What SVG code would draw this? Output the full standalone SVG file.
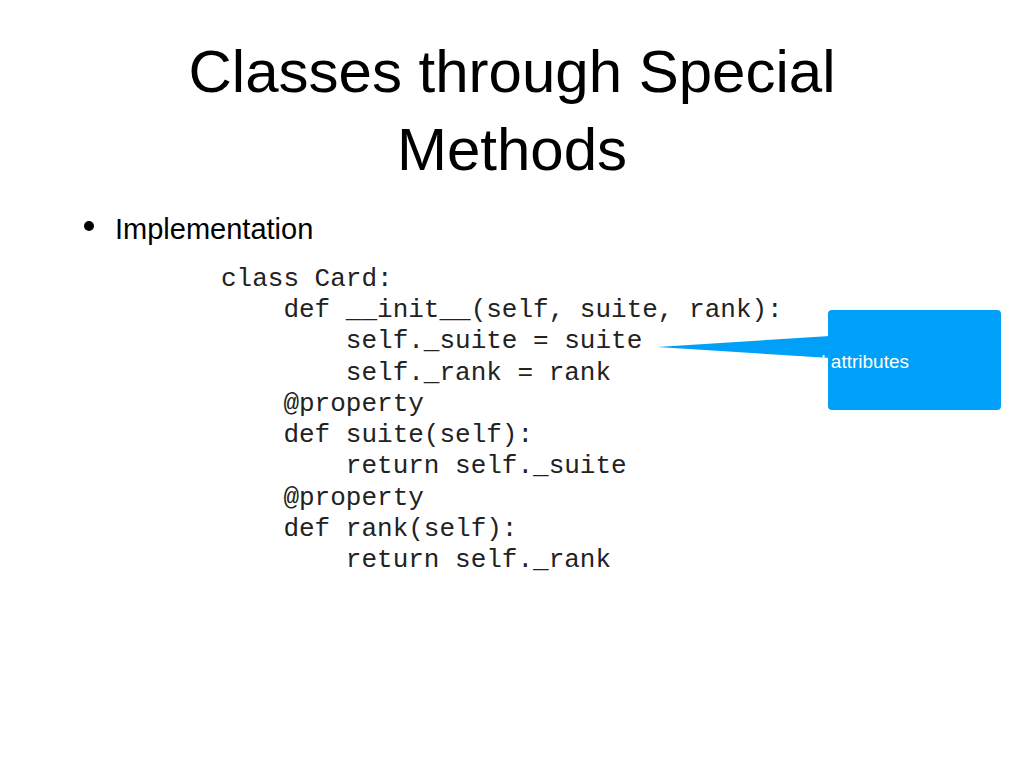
<svg xmlns="http://www.w3.org/2000/svg" width="1024" height="768" viewBox="0 0 1024 768">
<style>
.t{font-family:"Liberation Sans",Arial,sans-serif;fill:#000}
.c{font-family:"Liberation Mono","Courier New",monospace;font-size:26px;fill:#222;white-space:pre}
</style>
<rect width="1024" height="768" fill="#fff"/>
<text class="t" x="512" y="92" font-size="60" text-anchor="middle">Classes through Special</text>
<text class="t" x="512" y="170" font-size="60" text-anchor="middle">Methods</text>
<circle cx="89" cy="226" r="5" fill="#000"/>
<text class="t" x="115" y="239" font-size="29">Implementation</text>
<g id="code">
<text class="c" x="221" y="286">class Card:</text>
<text class="c" x="221" y="317">    def __init__(self, suite, rank):</text>
<text class="c" x="221" y="348">        self._suite = suite</text>
<text class="c" x="221" y="380">        self._rank = rank</text>
<text class="c" x="221" y="411">    @property</text>
<text class="c" x="221" y="442">    def suite(self):</text>
<text class="c" x="221" y="473">        return self._suite</text>
<text class="c" x="221" y="505">    @property</text>
<text class="c" x="221" y="536">    def rank(self):</text>
<text class="c" x="221" y="567">        return self._rank</text>
</g>
<g id="callout">
<polygon points="657,347 830,336 830,358" fill="#00a0f8"/>
<rect x="828" y="310" width="173" height="100" rx="4" fill="#00a0f8"/>
<text x="909" y="368" font-family="Liberation Sans,Arial,sans-serif" font-size="19" fill="#fff" text-anchor="end">protected attributes</text>
</g>
</svg>
